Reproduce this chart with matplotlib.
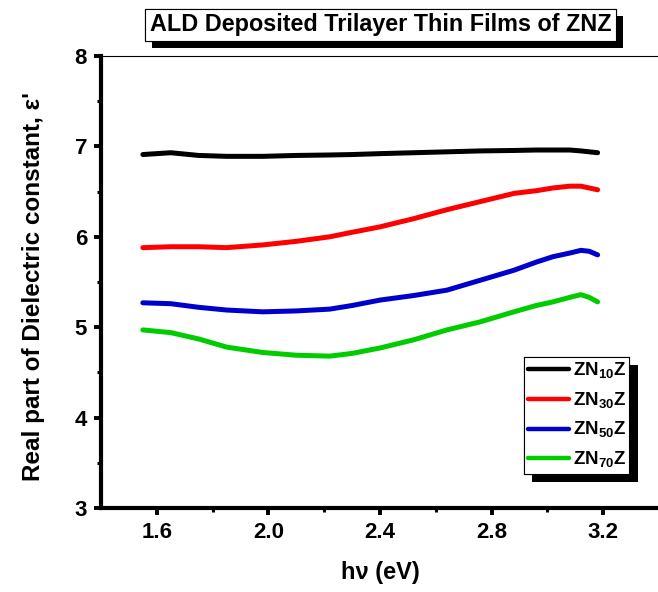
import numpy as np
import matplotlib
matplotlib.use("Agg")
import matplotlib.pyplot as plt
import matplotlib.patheffects as pe

plt.rcParams['font.family'] = ['Liberation Sans', 'DejaVu Sans']
plt.rcParams['font.weight'] = 'bold'
plt.rcParams['mathtext.fontset'] = 'custom'
plt.rcParams['mathtext.rm'] = 'Liberation Sans:bold'
plt.rcParams['mathtext.bf'] = 'Liberation Sans:bold'

# photon energy (eV) and eps' values
hv = [1.55, 1.65, 1.75, 1.85, 1.98, 2.10, 2.22, 2.30, 2.40, 2.52, 2.64,
      2.76, 2.88, 2.96, 3.02, 3.08, 3.12, 3.15, 3.18]
zn10 = [6.91, 6.93, 6.90, 6.89, 6.89, 6.90, 6.905, 6.91, 6.92, 6.93, 6.94,
        6.95, 6.955, 6.96, 6.96, 6.96, 6.95, 6.94, 6.93]
zn30 = [5.88, 5.89, 5.89, 5.88, 5.91, 5.95, 6.00, 6.05, 6.11, 6.20, 6.30,
        6.39, 6.48, 6.51, 6.54, 6.56, 6.56, 6.54, 6.52]
zn50 = [5.27, 5.26, 5.22, 5.19, 5.17, 5.18, 5.20, 5.24, 5.30, 5.35, 5.41,
        5.52, 5.63, 5.72, 5.78, 5.82, 5.85, 5.84, 5.80]
zn70 = [4.97, 4.94, 4.87, 4.78, 4.72, 4.69, 4.68, 4.71, 4.77, 4.86, 4.97,
        5.06, 5.17, 5.24, 5.28, 5.33, 5.36, 5.33, 5.28]

series = [zn10, zn30, zn50, zn70]
labels = [r'ZN$_{10}$Z', r'ZN$_{30}$Z', r'ZN$_{50}$Z', r'ZN$_{70}$Z']
colors = ['black', '#ff0000', '#0000cc', '#00cc00']

fig = plt.figure(figsize=(6.58, 5.92), dpi=100)
ax = fig.add_axes([0.1535, 0.1419, 0.848, 0.7635])

for y, lab, c in zip(series, labels, colors):
    ax.plot(hv, y, color=c, lw=3.6, label=lab, solid_capstyle='round')

ax.set_xlim(1.4, 3.4)
ax.set_ylim(3, 8)
ax.set_xticks([1.6, 2.0, 2.4, 2.8, 3.2])
ax.set_xticklabels(['1.6', '2.0', '2.4', '2.8', '3.2'])
ax.set_xticks([1.8, 2.2, 2.6, 3.0], minor=True)
ax.set_yticks([3, 4, 5, 6, 7, 8])
ax.set_yticks([3.5, 4.5, 5.5, 6.5, 7.5], minor=True)

ax.spines['left'].set_linewidth(3)
ax.spines['bottom'].set_linewidth(3)
ax.spines['top'].set_linewidth(0.8)
ax.spines['right'].set_visible(False)
ax.tick_params(which='major', direction='out', length=5, width=2.8,
               labelsize=16, pad=5, top=False, right=False)
ax.tick_params(which='minor', direction='out', length=3, width=2.2,
               top=False, right=False)
for t in ax.get_xticklabels() + ax.get_yticklabels():
    t.set_fontweight('bold')

ax.set_xlabel('hν (eV)', fontsize=17, fontweight='bold')
ax.xaxis.set_label_coords(0.5, -0.117)
ax.set_ylabel("Real part of Dielectric constant, ε'", fontsize=17.5,
              fontweight='bold')
ax.yaxis.set_label_coords(-0.1, 0.49)

shadow = [pe.withSimplePatchShadow(offset=(5, -5), shadow_rgbFace='black', alpha=1.0),
          pe.Normal()]

title = fig.text(0.578, 0.958, 'ALD Deposited Trilayer Thin Films of ZNZ',
                 ha='center', va='center', fontsize=16.8, fontweight='bold',
                 bbox=dict(boxstyle='square,pad=0.2', fc='white', ec='black', lw=0.8))
title.get_bbox_patch().set_path_effects(shadow)

leg = ax.legend(loc='upper left', bbox_to_anchor=(0.796, 0.397),
                bbox_transform=fig.transFigure, fontsize=13.5,
                frameon=True, fancybox=False, framealpha=1.0, edgecolor='black',
                handlelength=2.2, handletextpad=0.2, borderpad=0.2,
                labelspacing=0.5, borderaxespad=0)
leg.get_frame().set_linewidth(0.8)
leg.get_frame().set_path_effects([pe.withSimplePatchShadow(offset=(6, -6),
                                  shadow_rgbFace='black', alpha=1.0), pe.Normal()])
for l in leg.get_lines():
    l.set_linewidth(3.2)

fig.savefig('out.png', dpi=100)
